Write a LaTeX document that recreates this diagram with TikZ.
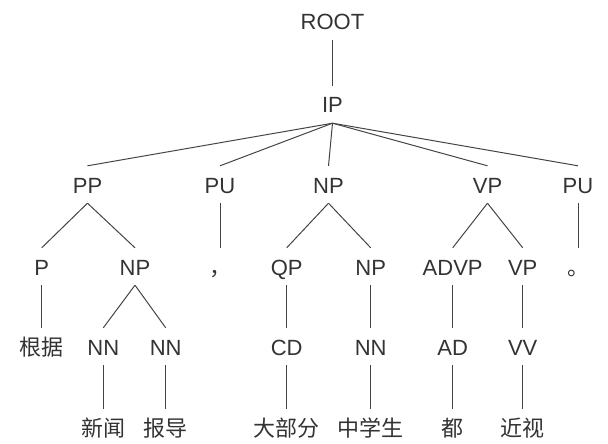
\documentclass[tikz,border=0pt]{standalone}
\usepackage{fontspec}
\setmainfont{Liberation Sans}
\newfontfamily\cjk{Noto Sans CJK SC}
\definecolor{txt}{HTML}{333333}
\definecolor{ln}{HTML}{444444}
\begin{document}
\begin{tikzpicture}[x=1pt,y=-1pt,
  lbl/.style={anchor=base, inner sep=0pt, text height=27pt, text depth=10pt, font=\fontsize{22}{26}\selectfont, text=txt},
  zh/.style={lbl, font=\fontsize{22}{26}\selectfont\cjk},
  edge/.style={draw=ln, line width=1pt}]
\useasboundingbox (0,0) rectangle (608,444);
% level 0/1
\node[lbl] (root) at (332.5,30) {ROOT};
\node[lbl] (ip) at (332.5,113) {IP};
% level 2
\node[lbl] (pp) at (87.5,193) {PP};
\node[lbl] (pu1) at (220,193) {PU};
\node[lbl] (np1) at (328.5,193) {NP};
\node[lbl] (vp1) at (487.5,193) {VP};
\node[lbl] (pu2) at (578,193) {PU};
% level 3
\node[lbl] (p) at (41.7,275) {P};
\node[lbl] (np2) at (135,275) {NP};
\node[zh] (comma) at (220,275) {，};
\node[lbl] (qp) at (286.7,275) {QP};
\node[lbl] (np3) at (370.7,275) {NP};
\node[lbl] (advp) at (452.7,275) {ADVP};
\node[lbl] (vp2) at (522.7,275) {VP};
\node[zh] (stop) at (578,275) {。};
% level 4
\node[zh] (w1) at (41.7,355) {根据};
\node[lbl] (nn1) at (103.3,355) {NN};
\node[lbl] (nn2) at (165.7,355) {NN};
\node[lbl] (cd) at (286.7,355) {CD};
\node[lbl] (nn3) at (370.7,355) {NN};
\node[lbl] (ad) at (452.7,355) {AD};
\node[lbl] (vv) at (522.7,355) {VV};
% level 5
\node[zh] (w2) at (103.3,436.5) {新闻};
\node[zh] (w3) at (165.7,436.5) {报导};
\node[zh] (w4) at (286.7,436.5) {大部分};
\node[zh] (w5) at (370.7,436.5) {中学生};
\node[zh] (w6) at (452.7,436.5) {都};
\node[zh] (w7) at (522.7,436.5) {近视};
% edges
\draw[edge] (root.south) -- (ip.north);
\foreach \c in {pp,pu1,np1,vp1,pu2} \draw[edge] (ip.south) -- (\c.north);
\draw[edge] (pp.south) -- (p.north);
\draw[edge] (pp.south) -- (np2.north);
\draw[edge] (pu1.south) -- (comma.north);
\draw[edge] (np1.south) -- (qp.north);
\draw[edge] (np1.south) -- (np3.north);
\draw[edge] (vp1.south) -- (advp.north);
\draw[edge] (vp1.south) -- (vp2.north);
\draw[edge] (pu2.south) -- (stop.north);
\draw[edge] (p.south) -- (w1.north);
\draw[edge] (np2.south) -- (nn1.north);
\draw[edge] (np2.south) -- (nn2.north);
\draw[edge] (qp.south) -- (cd.north);
\draw[edge] (np3.south) -- (nn3.north);
\draw[edge] (advp.south) -- (ad.north);
\draw[edge] (vp2.south) -- (vv.north);
\draw[edge] (nn1.south) -- (w2.north);
\draw[edge] (nn2.south) -- (w3.north);
\draw[edge] (cd.south) -- (w4.north);
\draw[edge] (nn3.south) -- (w5.north);
\draw[edge] (ad.south) -- (w6.north);
\draw[edge] (vv.south) -- (w7.north);
\end{tikzpicture}
\end{document}
